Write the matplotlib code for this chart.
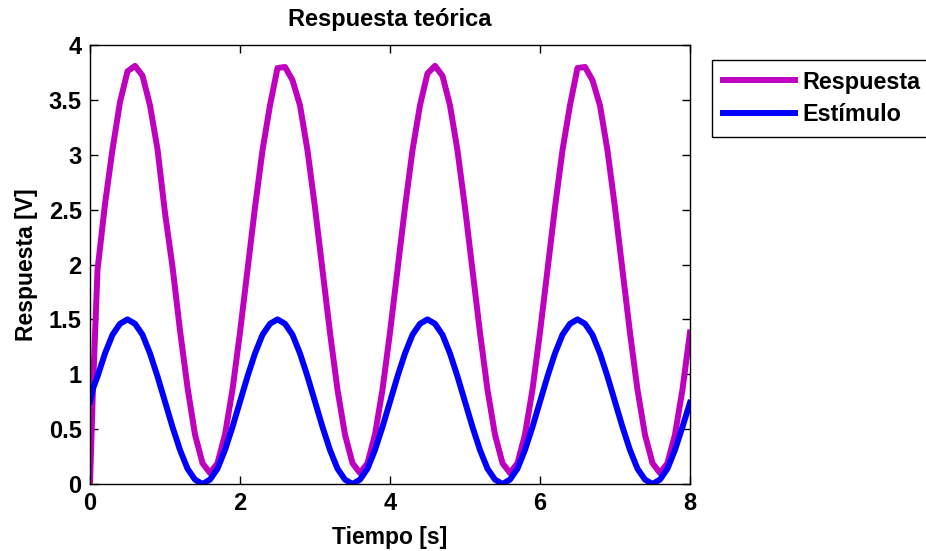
import matplotlib.pyplot as plt

plt.rcParams['font.family'] = ['Liberation Sans', 'DejaVu Sans']
plt.rcParams['font.weight'] = 'bold'

# sample times [s]
tiempo = [0.0, 0.04] + [round(0.1 * k, 1) for k in range(1, 81)]

# stimulus [V]
estimulo = [
    0.75, 0.87,
    0.98, 1.19, 1.36, 1.46, 1.50, 1.46, 1.36, 1.19, 0.98, 0.75,
    0.52, 0.31, 0.14, 0.04, 0.00, 0.04, 0.14, 0.31, 0.52, 0.75,
    0.98, 1.19, 1.36, 1.46, 1.50, 1.46, 1.36, 1.19, 0.98, 0.75,
    0.52, 0.31, 0.14, 0.04, 0.00, 0.04, 0.14, 0.31, 0.52, 0.75,
    0.98, 1.19, 1.36, 1.46, 1.50, 1.46, 1.36, 1.19, 0.98, 0.75,
    0.52, 0.31, 0.14, 0.04, 0.00, 0.04, 0.14, 0.31, 0.52, 0.75,
    0.98, 1.19, 1.36, 1.46, 1.50, 1.46, 1.36, 1.19, 0.98, 0.75,
    0.52, 0.31, 0.14, 0.04, 0.00, 0.04, 0.14, 0.31, 0.52, 0.74,
]

# theoretical response [V]
respuesta = [
    0.00, 0.88,
    1.95, 2.55, 3.05, 3.48, 3.76, 3.81, 3.72, 3.45, 3.05, 2.47,
    1.98, 1.40, 0.88, 0.45, 0.19, 0.10, 0.19, 0.45, 0.86, 1.38,
    1.95, 2.52, 3.04, 3.45, 3.79, 3.80, 3.68, 3.45, 3.04, 2.52,
    1.95, 1.38, 0.86, 0.45, 0.19, 0.10, 0.19, 0.45, 0.86, 1.38,
    1.95, 2.52, 3.04, 3.45, 3.74, 3.81, 3.72, 3.45, 3.04, 2.52,
    1.95, 1.38, 0.86, 0.45, 0.19, 0.10, 0.19, 0.45, 0.86, 1.38,
    1.95, 2.52, 3.04, 3.45, 3.79, 3.80, 3.68, 3.45, 3.04, 2.52,
    1.95, 1.38, 0.86, 0.45, 0.19, 0.10, 0.19, 0.45, 0.86, 1.38,
]

fig = plt.figure(figsize=(9.26, 5.51), dpi=100)
ax = fig.add_axes([0.0972, 0.1216, 0.6479, 0.7967])

ax.plot(tiempo, respuesta, color='#BF00BF', lw=4.3, label='Respuesta')
ax.plot(tiempo, estimulo, color='#0000FF', lw=4.3, label='Estímulo')

ax.set_xlim(0, 8)
ax.set_ylim(0, 4)
ax.set_xticks([0, 2, 4, 6, 8])
ax.set_yticks([0, 0.5, 1, 1.5, 2, 2.5, 3, 3.5, 4])
ax.set_yticklabels(['0', '0.5', '1', '1.5', '2', '2.5', '3', '3.5', '4'])
ax.tick_params(direction='in', length=6, width=1, top=True, right=True,
               labelsize=17, pad=6)
for s in ax.spines.values():
    s.set_linewidth(1)

ax.set_title('Respuesta teórica', fontsize=17, fontweight='bold', pad=14)
ax.set_xlabel('Tiempo [s]', fontsize=16.5, fontweight='bold', labelpad=8)
ax.set_ylabel('Respuesta [V]', fontsize=16.5, fontweight='bold', labelpad=8)

# legend sits outside the axes, running past the right edge
leg = fig.legend(loc='upper left', bbox_to_anchor=(712 / 926, 1 - 60 / 551),
                 fontsize=16.8, frameon=True, fancybox=False, framealpha=1,
                 edgecolor='black', handlelength=3.1, handletextpad=0.32,
                 borderpad=0.45, labelspacing=0.42, borderaxespad=0)
leg.get_frame().set_linewidth(1)

fig.savefig('out.png', dpi=100)
